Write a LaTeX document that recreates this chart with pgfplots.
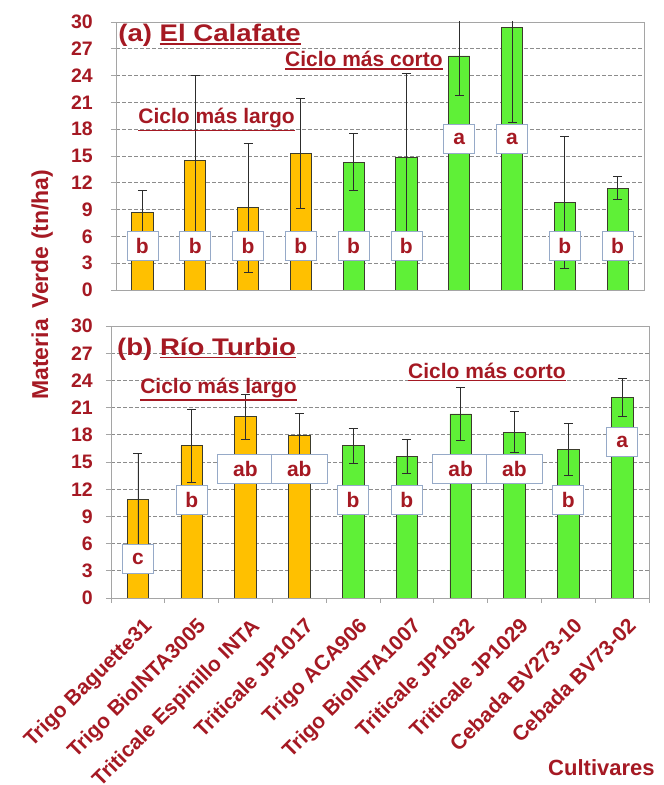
\documentclass[border=0pt]{standalone}
\usepackage{pgfplots}
\pgfplotsset{compat=1.18}
\usepackage{pgfplotstable}
\usepackage{fontspec}
\setmainfont{Liberation Sans}

\definecolor{txtred}{RGB}{165,25,35}
\definecolor{goldc}{RGB}{255,192,0}
\definecolor{limec}{RGB}{95,240,55}
\definecolor{edgec}{RGB}{60,60,45}
\definecolor{errc}{RGB}{45,45,45}
\definecolor{framec}{RGB}{165,165,165}
\definecolor{gridc}{RGB}{140,140,140}
\definecolor{boxc}{RGB}{150,170,200}

\newcommand\tickfont{\fontsize{19.5bp}{21bp}\selectfont\bfseries}
\newcommand\catfont{\fontsize{21bp}{23bp}\selectfont\bfseries}
\newcommand\titfont{\fontsize{24bp}{26bp}\selectfont\bfseries}
\newcommand\notefont{\fontsize{21bp}{23bp}\selectfont\bfseries}
\newcommand\ul[1]{\leavevmode\vtop{\hbox{#1}\kern1.5bp\hrule height 1.6bp}}

% El Calafate: long-cycle (gold) and short-cycle (green) cultivars
\pgfplotstableread{
x y e
0 8.7 2.4
1 14.5 9.5
2 9.2 7.2
3 15.3 6.2
}\calLong
\pgfplotstableread{
x y e
4 14.3 3.2
5 14.8 9.5
6 26.2 4.4
7 29.4 10.6
8 9.8 7.4
9 11.4 1.3
}\calShort
% Rio Turbio
\pgfplotstableread{
x y e
0 10.9 5.1
1 16.8 4.0
2 20.0 2.5
3 17.9 2.5
}\turLong
\pgfplotstableread{
x y e
4 16.8 1.9
5 15.6 1.85
6 20.3 2.9
7 18.3 2.25
8 16.4 2.9
9 22.15 2.1
}\turShort

\pgfplotsset{
  panel/.style={
    scale only axis,
    xmin=-0.5, xmax=9.5, ymin=0, ymax=30,
    ytick={0,3,...,30},
    ytick pos=left, ytick align=outside,
    major tick length=5bp,
    ymajorgrids,
    major grid style={gridc, line width=0.7pt, dash pattern=on 3.5bp off 2.5bp},
    axis line style={framec, line width=0.9pt},
    tick style={framec, line width=0.9pt},
    yticklabel style={font=\tickfont, text=txtred, inner sep=1bp},
    /pgf/number format/assume math mode=true,
    clip mode=individual,
  },
  bars/.style={ybar, bar width=0.4, bar shift=0pt, draw=edgec, line width=0.7pt, fill=#1,
    error bars/.cd, y dir=both, y explicit,
    error bar style={errc, line width=0.8pt},
    error mark options={rotate=90, mark size=4.5bp, errc, line width=0.8pt}},
}
\tikzset{
  lbox/.style={draw=boxc, fill=white, line width=0.8pt, font=\catfont, text=txtred,
    minimum height=29bp, minimum width=31bp, inner xsep=4bp, inner ysep=0pt},
  note/.style={font=\notefont, text=txtred, anchor=base west, inner sep=0pt},
  title/.style={note, font=\titfont, xscale=1.15},
}

\begin{document}
\begin{tikzpicture}
\useasboundingbox (0,0) rectangle (664bp,785bp);

% (a) El Calafate
\begin{axis}[panel,
  at={(116bp,495bp)}, anchor=south west, width=528bp, height=268bp,
  xtick=\empty,
  yticklabel style={xshift=-17bp},
  ylabel={Materia\, Verde (tn/ha)},
  ylabel style={at={(axis description cs:-0.140,0.02)}, anchor=center,
    font=\fontsize{23bp}{25bp}\selectfont\bfseries, text=txtred},
]
\addplot[bars=goldc] table[x=x, y=y, y error=e] {\calLong};
\addplot[bars=limec] table[x=x, y=y, y error=e] {\calShort};
\pgfplotsinvokeforeach{0,1,2,3,4,5,8,9}{\node[lbox] at (axis cs:#1,4.9) {b};}
\pgfplotsinvokeforeach{6,7}{\node[lbox] at (axis cs:#1,16.9) {a};}
\node[title] at (axis cs:-0.46,27.8) {(a) \ul{El Calafate}};
\node[note] at (axis cs:-0.08,18.6) {\ul{Ciclo más largo}};
\node[note] at (axis cs:2.70,25.0) {\ul{Ciclo más corto}};
\end{axis}

% (b) Rio Turbio
\begin{axis}[panel,
  at={(111bp,187bp)}, anchor=south west, width=538bp, height=272bp,
  yticklabel style={xshift=-12bp},
  xtick={-0.5,0.5,...,9.5}, xticklabels=\empty,
  xtick pos=bottom, xtick align=outside,
  extra x ticks={0,1,2,3,4,5,6,7,8,9},
  extra x tick labels={Trigo Baguette31, Trigo BioINTA3005, Triticale Espinillo INTA,
    Triticale JP1017, Trigo ACA906, Trigo BioINTA1007, Triticale JP1032,
    Triticale JP1029, Cebada BV273-10, Cebada BV73-02},
  extra x tick style={major tick length=0pt, grid=none,
    xticklabel style={rotate=45, anchor=north east, font=\catfont, text=txtred,
      inner sep=2bp, xshift=-8bp, yshift=-14bp}},
  xlabel={Cultivares},
  xlabel style={at={(axis description cs:1.017,-0.625)}, anchor=east,
    font=\fontsize{22bp}{24bp}\selectfont\bfseries, text=txtred},
]
\addplot[bars=goldc] table[x=x, y=y, y error=e] {\turLong};
\addplot[bars=limec] table[x=x, y=y, y error=e] {\turShort};
\node[lbox] at (axis cs:0,4.3) {c};
\pgfplotsinvokeforeach{1,4,5,8}{\node[lbox] at (axis cs:#1,10.8) {b};}
\pgfplotsinvokeforeach{2,3,6,7}{\node[lbox, minimum width=56bp] at (axis cs:#1,14.2) {ab};}
\node[lbox] at (axis cs:9,17.2) {a};
\node[title] at (axis cs:-0.39,26.8) {(b) \ul{Río Turbio}};
\node[note] at (axis cs:0.04,22.6) {\ul{Ciclo más largo}};
\node[note] at (axis cs:5.02,24.25) {\ul{Ciclo más corto}};
\end{axis}
\end{tikzpicture}
\end{document}
